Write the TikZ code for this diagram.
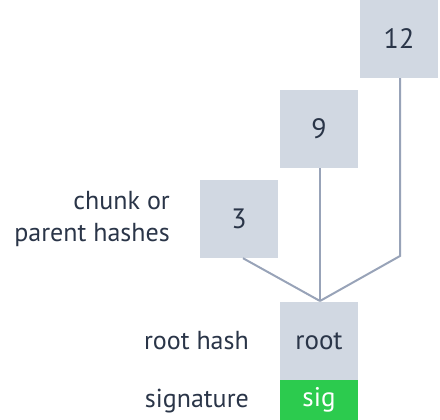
\documentclass[tikz,border=0pt]{standalone}
\usepackage{fontspec}
\setmainfont{PT Sans}
\definecolor{boxfill}{HTML}{D1D8E2}
\definecolor{linec}{HTML}{98A3B8}
\definecolor{txt}{HTML}{2A3548}
\definecolor{sigg}{HTML}{2CCB4E}
\begin{document}
\begin{tikzpicture}[x=1pt,y=-1pt,
  hbox/.style={fill=boxfill, minimum width=78pt, minimum height=78pt, inner sep=0pt, text=txt, font=\fontsize{28}{32}\selectfont},
  sigbox/.style={fill=sigg, minimum width=78pt, minimum height=40pt, inner sep=0pt, text=white, font=\fontsize{27}{30}\selectfont},
  lbl/.style={text=txt, font=\fontsize{26}{32}\selectfont, anchor=east, align=right, inner sep=0pt},
  conn/.style={draw=linec, line width=2pt}]
\useasboundingbox (0,0) rectangle (440,420);
\node[hbox] (n12) at (399,39) {12};
\node[hbox] (n9) at (319,129) {9};
\node[hbox] (n3) at (239,219) {3};
\node[hbox, font=\fontsize{27}{30}\selectfont] (root) at (319,341) {root};
\node[sigbox] (sig) at (319,400) {sig};
\node[lbl] (l1) at (170,219) {chunk or\\parent hashes};
\node[lbl] (l2) at (249,341) {root hash};
\node[lbl] (l3) at (249,401) {signature};
\coordinate (j) at (320,301);
\coordinate (b12) at (400,256);
\draw[conn] (n3.south) ++(4,0) -- (j);
\draw[conn] (n9.south) ++(1,0) -- (j);
\draw[conn] (n12.south) ++(1,0) -- (b12) -- (j);
\end{tikzpicture}
\end{document}
